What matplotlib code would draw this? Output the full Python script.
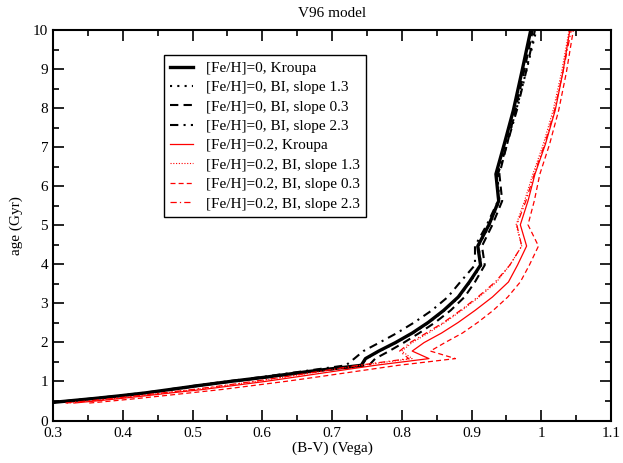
import matplotlib
matplotlib.use('Agg')
import matplotlib.pyplot as plt
from matplotlib.ticker import MultipleLocator

plt.rcParams['font.family'] = ['Liberation Serif', 'DejaVu Serif']

# 年龄网格 (Gyr)
AGES = [0.447, 0.501, 0.562, 0.631, 0.708, 0.794, 0.891, 1.0, 1.122, 1.259,
        1.413, 1.585, 1.778, 1.995, 2.239, 2.512, 2.818, 3.162, 3.548, 3.981,
        4.467, 5.012, 5.623, 6.310, 7.079, 7.943, 8.913, 10.0]

# (B-V) 颜色, [Fe/H]=0
BV_FE0_KROUPA = [0.290, 0.322, 0.358, 0.395, 0.433, 0.468, 0.507, 0.554, 0.610, 0.668,
                 0.742, 0.748, 0.767, 0.791, 0.815, 0.838, 0.860, 0.881, 0.897, 0.913,
                 0.909, 0.925, 0.939, 0.935, 0.947, 0.960, 0.972, 0.985]
BV_FE0_BI13 = [0.291, 0.323, 0.359, 0.396, 0.434, 0.469, 0.508, 0.555, 0.611, 0.669,
               0.742, 0.749, 0.768, 0.792, 0.816, 0.839, 0.861, 0.882, 0.898, 0.914,
               0.910, 0.926, 0.940, 0.937, 0.950, 0.964, 0.978, 0.993]
BV_FE0_BI03 = [0.291, 0.323, 0.359, 0.397, 0.435, 0.471, 0.510, 0.557, 0.614, 0.674,
               0.753, 0.762, 0.782, 0.803, 0.825, 0.848, 0.870, 0.890, 0.905, 0.919,
               0.915, 0.930, 0.944, 0.940, 0.951, 0.963, 0.975, 0.988]
BV_FE0_BI23 = [0.288, 0.320, 0.355, 0.392, 0.430, 0.465, 0.503, 0.549, 0.603, 0.658,
               0.720, 0.732, 0.745, 0.768, 0.793, 0.818, 0.843, 0.866, 0.884, 0.905,
               0.905, 0.922, 0.938, 0.938, 0.951, 0.965, 0.978, 0.991]

# (B-V) 颜色, [Fe/H]=0.2
BV_FE02_KROUPA = [0.330, 0.362, 0.396, 0.432, 0.470, 0.515, 0.557, 0.604, 0.651, 0.703,
                  0.762, 0.839, 0.815, 0.832, 0.857, 0.881, 0.905, 0.930, 0.953, 0.966,
                  0.979, 0.970, 0.981, 0.991, 1.006, 1.020, 1.031, 1.041]
BV_FE02_BI13 = [0.320, 0.352, 0.386, 0.421, 0.459, 0.503, 0.545, 0.590, 0.636, 0.686,
                0.742, 0.815, 0.800, 0.815, 0.838, 0.862, 0.886, 0.911, 0.936, 0.955,
                0.972, 0.964, 0.976, 0.988, 1.003, 1.017, 1.029, 1.040]
BV_FE02_BI03 = [0.352, 0.385, 0.420, 0.457, 0.497, 0.542, 0.585, 0.633, 0.682, 0.735,
                0.795, 0.877, 0.841, 0.862, 0.887, 0.909, 0.931, 0.952, 0.970, 0.983,
                0.996, 0.981, 0.990, 0.998, 1.012, 1.025, 1.036, 1.046]
BV_FE02_BI23 = [0.318, 0.350, 0.384, 0.419, 0.457, 0.500, 0.542, 0.587, 0.633, 0.683,
                0.738, 0.810, 0.797, 0.812, 0.835, 0.860, 0.884, 0.909, 0.934, 0.955,
                0.972, 0.965, 0.978, 0.990, 1.005, 1.019, 1.031, 1.043]

SERIES = [
    (BV_FE0_KROUPA, '[Fe/H]=0, Kroupa', 'black', '-', 2.4),
    (BV_FE0_BI13, '[Fe/H]=0, BI, slope 1.3', 'black', (0, (1, 2.5)), 1.5),
    (BV_FE0_BI03, '[Fe/H]=0, BI, slope 0.3', 'black', (0, (4, 2.5)), 1.5),
    (BV_FE0_BI23, '[Fe/H]=0, BI, slope 2.3', 'black', (0, (4, 2.5, 1, 2.5)), 1.5),
    (BV_FE02_KROUPA, '[Fe/H]=0.2, Kroupa', 'red', '-', 0.9),
    (BV_FE02_BI13, '[Fe/H]=0.2, BI, slope 1.3', 'red', (0, (1, 1.5)), 0.8),
    (BV_FE02_BI03, '[Fe/H]=0.2, BI, slope 0.3', 'red', (0, (4, 2.5)), 0.9),
    (BV_FE02_BI23, '[Fe/H]=0.2, BI, slope 2.3', 'red', (0, (5, 2.5, 1, 2.5)), 0.9),
]

fig = plt.figure(figsize=(6.23, 4.63), dpi=100)
ax = fig.add_axes([53 / 623, 42.5 / 463, 558 / 623, 390.5 / 463])

for bv, label, color, ls, lw in SERIES:
    ax.plot(bv, AGES, color=color, linestyle=ls, linewidth=lw, label=label)

ax.set_xlim(0.3, 1.1)
ax.set_ylim(0, 10)
ax.xaxis.set_major_locator(MultipleLocator(0.1))
ax.xaxis.set_minor_locator(MultipleLocator(0.05))
ax.yaxis.set_major_locator(MultipleLocator(1))
ax.yaxis.set_minor_locator(MultipleLocator(0.5))
ax.set_xticklabels([f'{v:g}' for v in ax.get_xticks()])
ax.tick_params(which='both', direction='in', top=True, right=True, labelsize=11, width=1.2)
ax.tick_params(which='major', length=8)
ax.tick_params(which='minor', length=4.5)
ax.tick_params(axis='x', pad=5)
for sp in ax.spines.values():
    sp.set_linewidth(1.5)

ax.set_xlabel('(B-V) (Vega)', fontsize=11, labelpad=1)
ax.set_ylabel('age (Gyr)', fontsize=11, labelpad=7)
ax.set_title('V96 model', fontsize=11, pad=9)

leg = ax.legend(loc='upper left', bbox_to_anchor=(0.199, 0.936), fontsize=11,
                frameon=True, fancybox=False, framealpha=1, edgecolor='black',
                handlelength=1.5, handletextpad=0.8, labelspacing=0.37,
                borderpad=0.42, borderaxespad=0)
leg.get_frame().set_linewidth(1.0)

fig.savefig('out.png', dpi=100)
